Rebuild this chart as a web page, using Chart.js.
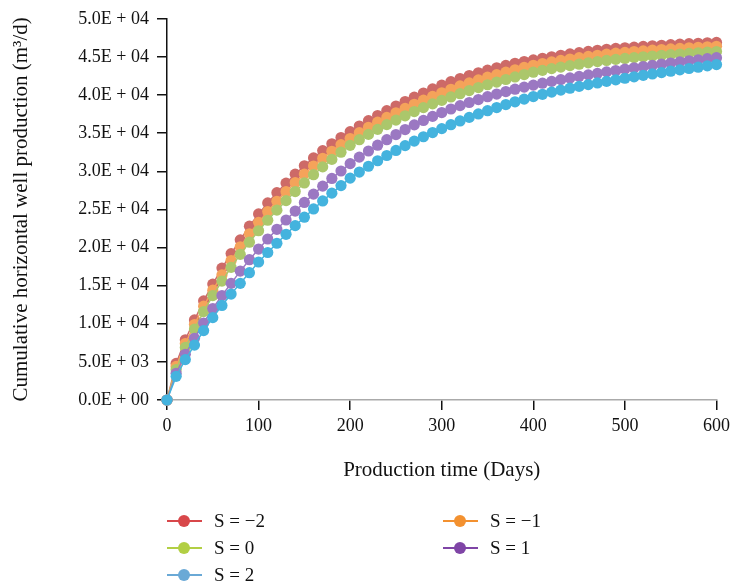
<!DOCTYPE html>
<html>
<head>
<meta charset="utf-8">
<script src="https://cdn.jsdelivr.net/npm/chart.js@4"></script>
<style>
  html, body { margin: 0; padding: 0; background: #fff; }
  #wrap { position: relative; width: 735px; height: 588px; }
</style>
</head>
<body>
<div id="wrap"><canvas id="chart" width="735" height="588"></canvas></div>
<script>
const days = [0, 10, 20, 30, 40, 50, 60, 70, 80, 90, 100, 110, 120, 130, 140, 150, 160, 170, 180, 190, 200,
  210, 220, 230, 240, 250, 260, 270, 280, 290, 300, 310, 320, 330, 340, 350, 360, 370, 380, 390, 400,
  410, 420, 430, 440, 450, 460, 470, 480, 490, 500, 510, 520, 530, 540, 550, 560, 570, 580, 590, 600];

const seriesNames = ["S = \u22122", "S = \u22121", "S = 0", "S = 1", "S = 2"];

const sNeg2 = [0, 4800, 7900, 10500, 13000, 15200, 17300, 19200, 21000, 22800, 24400,
  25850, 27200, 28450, 29620, 30720, 31750, 32710, 33610, 34430, 35200,
  35940, 36640, 37310, 37950, 38560, 39150, 39720, 40270, 40800, 41300,
  41750, 42170, 42560, 42920, 43260, 43580, 43880, 44160, 44390, 44600,
  44820, 45020, 45210, 45390, 45560, 45720, 45870, 46000, 46110, 46200,
  46290, 46375, 46455, 46530, 46600, 46670, 46735, 46795, 46850, 46900];

const sNeg1 = [0, 4400, 7400, 9900, 12300, 14400, 16400, 18300, 20100, 21800, 23300,
  24720, 26060, 27320, 28510, 29630, 30690, 31690, 32630, 33500, 34300,
  35060, 35770, 36440, 37070, 37670, 38240, 38790, 39320, 39820, 40300,
  40760, 41190, 41600, 41980, 42340, 42680, 43010, 43320, 43620, 43900,
  44130, 44340, 44540, 44725, 44900, 45065, 45220, 45360, 45485, 45600,
  45700, 45795, 45885, 45970, 46050, 46125, 46200, 46270, 46335, 46400];

const s0 = [0, 4000, 6900, 9300, 11600, 13700, 15600, 17400, 19100, 20700, 22200,
  23580, 24900, 26150, 27340, 28470, 29550, 30580, 31560, 32500, 33400,
  34140, 34840, 35500, 36120, 36710, 37280, 37830, 38350, 38840, 39300,
  39750, 40180, 40590, 40980, 41350, 41700, 42040, 42370, 42690, 43000,
  43240, 43460, 43665, 43860, 44045, 44220, 44385, 44535, 44675, 44800,
  44910, 45015, 45115, 45210, 45300, 45385, 45470, 45550, 45625, 45700];

const sPos1 = [0, 3500, 6000, 8100, 10100, 12000, 13700, 15300, 16900, 18400, 19800,
  21120, 22390, 23610, 24780, 25910, 27000, 28050, 29060, 30040, 31000,
  31860, 32660, 33420, 34140, 34820, 35470, 36090, 36670, 37200, 37700,
  38170, 38610, 39020, 39410, 39780, 40130, 40460, 40770, 41040, 41300,
  41550, 41790, 42020, 42240, 42450, 42650, 42845, 43035, 43220, 43400,
  43570, 43735, 43895, 44050, 44200, 44345, 44490, 44630, 44765, 44900];

const sPos2 = [0, 3100, 5300, 7200, 9100, 10800, 12400, 13900, 15300, 16700, 18100,
  19350, 20560, 21730, 22870, 23980, 25060, 26110, 27130, 28120, 29100,
  29900, 30660, 31380, 32070, 32730, 33360, 33960, 34530, 35080, 35600,
  36110, 36600, 37070, 37520, 37950, 38360, 38750, 39110, 39460, 39800,
  40100, 40380, 40645, 40895, 41135, 41365, 41585, 41795, 42000, 42200,
  42395, 42585, 42770, 42950, 43130, 43305, 43480, 43655, 43830, 44000];

const yTickLabels = ["0.0E + 00", "5.0E + 03", "1.0E + 04", "1.5E + 04", "2.0E + 04", "2.5E + 04",
  "3.0E + 04", "3.5E + 04", "4.0E + 04", "4.5E + 04", "5.0E + 04"];

const allSeries = [sNeg2, sNeg1, s0, sPos1, sPos2];

// marker colours in the plot are softer than the legend ones
const plotColors = ["#cd6a67", "#f5a35a", "#abc76b", "#9b78c2", "#44b3de"];
const legendColors = ["#d8474a", "#f39130", "#b2cf44", "#7f45a6", "#6aa9d6"];

const FONT = "'Liberation Serif', 'Times New Roman', serif";

const datasets = allSeries.map((vals, i) => ({
  label: seriesNames[i],
  data: days.map((d, j) => ({ x: d, y: vals[j] })),
  borderColor: plotColors[i],
  backgroundColor: plotColors[i],
  pointBackgroundColor: plotColors[i],
  pointBorderWidth: 0,
  pointRadius: 5.6,
  borderWidth: 1.5,
  clip: false,
  order: allSeries.length - i
}));

// legend in two columns below the plot
const legendPlugin = {
  id: "sideLegend",
  afterDraw(chart) {
    const ctx = chart.ctx;
    ctx.save();
    chart.data.datasets.forEach((ds, i) => {
      const col = i % 2;
      const row = Math.floor(i / 2);
      const x0 = col === 0 ? 167 : 443;
      const y = 521 + row * 27;
      ctx.strokeStyle = legendColors[i];
      ctx.lineWidth = 2;
      ctx.beginPath();
      ctx.moveTo(x0, y);
      ctx.lineTo(x0 + 35, y);
      ctx.stroke();
      ctx.fillStyle = legendColors[i];
      ctx.beginPath();
      ctx.arc(x0 + 17, y, 6, 0, Math.PI * 2);
      ctx.fill();
      ctx.fillStyle = "#111";
      ctx.font = "19px " + FONT;
      ctx.textBaseline = "middle";
      ctx.textAlign = "left";
      ctx.fillText(ds.label, x0 + 47, y + 1);
    });
    ctx.restore();
  }
};

new Chart(document.getElementById("chart"), {
  type: "line",
  data: { datasets },
  options: {
    responsive: false,
    animation: false,
    layout: { padding: { left: 0, right: 17, top: 15, bottom: 103 } },
    plugins: { legend: { display: false }, tooltip: { enabled: false } },
    scales: {
      x: {
        type: "linear",
        min: 0,
        max: 600,
        ticks: { stepSize: 100, color: "#111", padding: 5, font: { family: FONT, size: 18 } },
        grid: { drawOnChartArea: false, drawTicks: true, tickLength: 10, color: "#111", lineWidth: 1.5 },
        border: { display: true, color: "#aaa", width: 1.5 },
        title: {
          display: true,
          text: "Production time (Days)",
          color: "#111",
          font: { family: FONT, size: 21 },
          padding: { top: 4, bottom: 2 }
        },
        afterFit(scale) { scale.height = 85; }
      },
      y: {
        min: 0,
        max: 50000,
        ticks: {
          stepSize: 5000,
          color: "#111",
          padding: 8,
          font: { family: FONT, size: 18 },
          callback: (v, i) => yTickLabels[i]
        },
        grid: { drawOnChartArea: false, drawTicks: true, tickLength: 10, color: "#111", lineWidth: 1.5 },
        border: { display: true, color: "#111", width: 1.5 },
        title: {
          display: true,
          text: "Cumulative horizontal well production (m\u00b3/d)",
          color: "#111",
          font: { family: FONT, size: 21 },
          padding: { top: 9, bottom: 4 }
        },
        afterFit(scale) { scale.width = 167; }
      }
    }
  },
  plugins: [legendPlugin]
});
</script>
</body>
</html>
